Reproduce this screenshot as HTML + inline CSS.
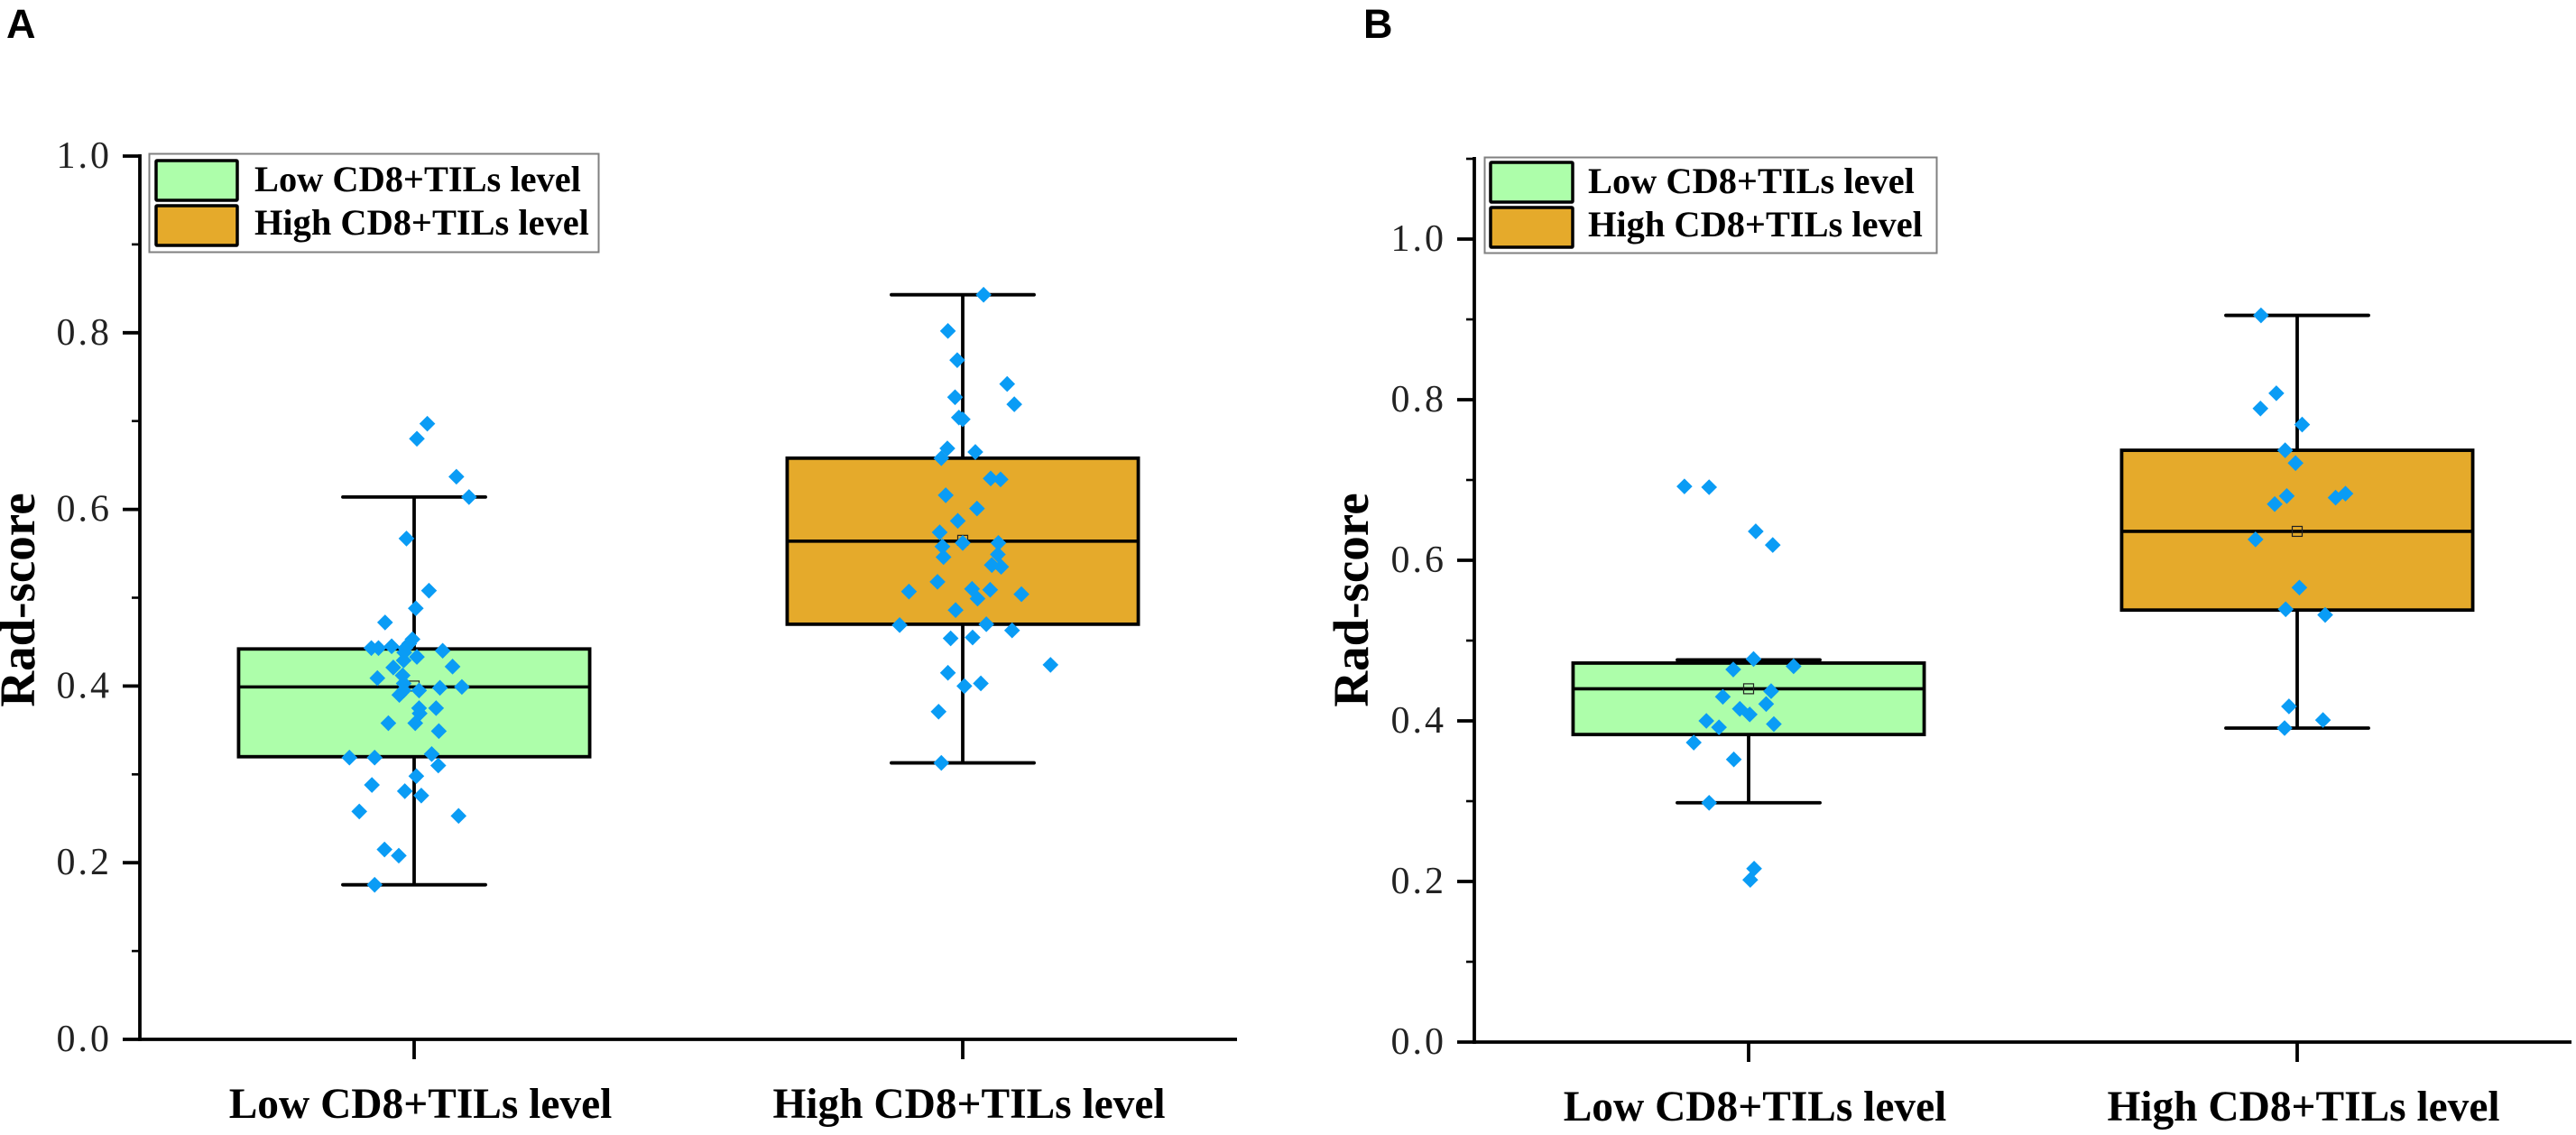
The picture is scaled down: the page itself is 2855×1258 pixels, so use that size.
<!DOCTYPE html>
<html lang="en">
<head>
<meta charset="utf-8">
<title>Rad-score box plots by CD8+TILs level</title>
<style>
html,body{margin:0;padding:0;background:#fff;width:2855px;height:1258px;overflow:hidden}
svg{display:block}
.bold{font-family:"Liberation Serif",serif;font-weight:700;fill:#000}
.tick{font-family:"Liberation Serif",serif;font-size:42px;fill:#222;letter-spacing:3px}
.panel{font-family:"Liberation Sans",sans-serif;font-weight:700;font-size:45px;fill:#000}
</style>
</head>
<body>
<svg id="figure" xmlns="http://www.w3.org/2000/svg" width="2855" height="1258" viewBox="0 0 2855 1258">
  <rect width="2855" height="1258" fill="#fff"/>
  <text class="panel" x="7" y="42">A</text>
  <text class="panel" x="1511" y="42">B</text>
  <g id="plot-a"></g>
  <g id="plot-b"></g>
  <text class="bold" font-size="55" text-anchor="middle" transform="translate(38,665) rotate(-90)">Rad-score</text>
  <text class="bold" font-size="55" text-anchor="middle" transform="translate(1516,665) rotate(-90)">Rad-score</text>

  <g>
    <rect x="165.5" y="170.5" width="498" height="109" fill="#fff" stroke="#808080" stroke-width="2"/>
    <rect x="173" y="178" width="90" height="44" rx="1" fill="#adfeaa" stroke="#000" stroke-width="3.5"/>
    <rect x="173" y="228" width="90" height="44" rx="1" fill="#e5aa2b" stroke="#000" stroke-width="3.5"/>
    <text class="bold" font-size="40.4" x="282" y="212">Low CD8+TILs level</text>
    <text class="bold" font-size="40.4" x="282" y="260">High CD8+TILs level</text>
  </g>
  <g>
    <rect x="1645.5" y="174.5" width="501" height="106" fill="#fff" stroke="#808080" stroke-width="2"/>
    <rect x="1652" y="180" width="91" height="44" rx="1" fill="#adfeaa" stroke="#000" stroke-width="3.5"/>
    <rect x="1652" y="230" width="91" height="44" rx="1" fill="#e5aa2b" stroke="#000" stroke-width="3.5"/>
    <text class="bold" font-size="40.4" x="1760" y="214">Low CD8+TILs level</text>
    <text class="bold" font-size="40.4" x="1760" y="262">High CD8+TILs level</text>
  </g>
</svg>
<script>
// ---------- data ----------
const categories = ['Low CD8+TILs level', 'High CD8+TILs level'];
const yTicksA = ['0.0', '0.2', '0.4', '0.6', '0.8', '1.0'];
const yTicksB = ['0.0', '0.2', '0.4', '0.6', '0.8', '1.0'];

// five-number box stats: lower whisker, Q1, median, mean, Q3, upper whisker
const statsALow  = [0.175, 0.320, 0.399, 0.400, 0.442, 0.614];
const statsAHigh = [0.313, 0.470, 0.564, 0.565, 0.658, 0.843];
const statsBLow  = [0.298, 0.383, 0.440, 0.440, 0.472, 0.476];
const statsBHigh = [0.391, 0.538, 0.636, 0.636, 0.737, 0.905];

// scatter points: value and horizontal jitter (in category widths)
const valuesALow = [.697,.680,.637,.614,.567,.508,.488,.472,.453,.448,.443,.443,.445,.443,.440,.433,.429,.438,.421,.412,.422,.409,.403,.395,.398,.399,.390,.395,.375,.375,.369,.358,.358,.349,.319,.319,.323,.310,.298,.288,.281,.276,.258,.253,.215,.208,.175];
const jitterALow = [.024,.005,.077,.100,-.014,.027,.003,-.053,-.003,-.009,-.078,-.065,-.041,-.016,.052,.005,-.019,-.018,-.038,-.021,.070,-.067,-.019,.009,.047,.087,-.027,-.019,.040,.009,.010,.002,-.047,.045,-.118,-.072,.032,.044,.004,-.077,-.017,.013,-.100,.081,-.054,-.028,-.072];
const valuesAHigh = [.843,.802,.769,.742,.727,.719,.704,.702,.669,.658,.665,.635,.634,.616,.601,.587,.574,.558,.562,.562,.546,.549,.537,.535,.518,.507,.510,.509,.499,.504,.486,.469,.470,.463,.454,.455,.424,.415,.400,.403,.371,.313];
const jitterAHigh = [.038,-.027,-.010,.081,-.014,.094,-.007,0,-.028,-.039,.023,.051,.069,-.031,.026,-.009,-.042,-.037,0,.065,-.035,.064,.053,.070,-.046,-.098,.017,.050,.027,.107,-.013,-.115,.043,.090,-.022,.018,.160,-.027,.003,.033,-.044,-.039];
const valuesBLow = [.692,.691,.636,.619,.477,.468,.464,.437,.430,.421,.415,.408,.400,.392,.396,.373,.352,.298,.216,.202];
const jitterBLow = [-.117,-.072,.013,.044,.009,.082,-.028,.041,-.047,.032,-.016,.002,-.077,-.054,.046,-.100,-.027,-.072,.010,.003];
const valuesBHigh = [.905,.808,.789,.769,.737,.721,.680,.670,.678,.683,.626,.566,.539,.532,.418,.401,.391];
const jitterBHigh = [-.066,-.038,-.067,.009,-.022,-.003,-.019,-.041,.070,.088,-.076,.004,-.021,.051,-.015,.047,-.023];

// ---------- drawing ----------
const SVGNS = 'http://www.w3.org/2000/svg';
const BOX_WIDTH = 0.64, CAP_WIDTH = 0.26;
const COLOR_LOW = '#adfeaa', COLOR_HIGH = '#e5aa2b', COLOR_POINT = '#0a9cf5';

function make(parent, tag, attrs, text) {
  const el = document.createElementNS(SVGNS, tag);
  for (const k in attrs) el.setAttribute(k, attrs[k]);
  if (text !== undefined) el.textContent = text;
  parent.appendChild(el);
  return el;
}

function drawBox(g, xScale, yScale, cat, stats, fill, values, jitter) {
  const [lo, q1, med, mean, q3, hi] = stats;
  const cx = xScale(cat);
  const boxL = xScale(cat - BOX_WIDTH / 2), boxR = xScale(cat + BOX_WIDTH / 2);
  const capL = xScale(cat - CAP_WIDTH / 2), capR = xScale(cat + CAP_WIDTH / 2);

  const stem = make(g, 'line', {x1: cx, x2: cx, y1: yScale(lo), y2: yScale(hi), stroke: '#000', 'stroke-width': 3.8});
  
  

  const capTop = make(g, 'line', {x1: capL, x2: capR, y1: yScale(hi), y2: yScale(hi), stroke: '#000', 'stroke-width': 3.8, 'stroke-linecap': 'round'});
  
  

  const capBottom = make(g, 'line', {x1: capL, x2: capR, y1: yScale(lo), y2: yScale(lo), stroke: '#000', 'stroke-width': 3.8, 'stroke-linecap': 'round'});
  
  

  const box = make(g, 'rect', {x: boxL, y: yScale(q3), width: boxR - boxL, height: yScale(q1) - yScale(q3), fill: fill, stroke: '#000', 'stroke-width': 3.8});
  
  

  const medianLine = make(g, 'line', {x1: boxL, x2: boxR, y1: yScale(med), y2: yScale(med), stroke: '#000', 'stroke-width': 3.6});
  
  

  const meanMark = make(g, 'rect', {x: cx - 5.5, y: yScale(mean) - 5.5, width: 11, height: 11, fill: 'none', stroke: '#222', 'stroke-width': 1.2});
  
  

  values.forEach((v, i) => {
    const px = xScale(cat + jitter[i]), py = yScale(v), r = 8.8;
    const pt = make(g, 'polygon', {points: `${px},${py - r} ${px + r},${py} ${px},${py + r} ${px - r},${py}`, fill: COLOR_POINT});
    
    
  });
}

function drawAxes(g, x0, y0, xScale, yScale, yMax, tickLabels) {
  const xEnd = xScale(1.5);
  const yAxis = make(g, 'line', {x1: x0, x2: x0, y1: yScale(yMax) - 2, y2: y0 + 2, stroke: '#000', 'stroke-width': 3.8});
  
  

  const xAxis = make(g, 'line', {x1: x0 - 2, x2: xEnd, y1: y0, y2: y0, stroke: '#000', 'stroke-width': 3.8});
  
  

  tickLabels.forEach(label => {
    const v = parseFloat(label);
    const t = make(g, 'line', {x1: x0 - 19, x2: x0, y1: yScale(v), y2: yScale(v), stroke: '#000', 'stroke-width': 3.8});
    
    
    const l = make(g, 'text', {x: x0 - 31, y: yScale(v) + 13, 'text-anchor': 'end', class: 'tick'}, label);
    
    
  });
  for (let k = 1; k < yMax * 10 + 0.5; k += 2) {
    const v = k / 10;
    const t = make(g, 'line', {x1: x0 - 9, x2: x0, y1: yScale(v), y2: yScale(v), stroke: '#000', 'stroke-width': 2.6});
    
    
  }
  categories.forEach((c, i) => {
    const t = make(g, 'line', {x1: xScale(i), x2: xScale(i), y1: y0, y2: y0 + 22, stroke: '#000', 'stroke-width': 3.8});
    
    
    const l = make(g, 'text', {x: xScale(i) + 7, y: y0 + 87, 'text-anchor': 'middle', class: 'bold', 'font-size': 47.4}, c);
    
    
  });
}

// axis functions: category index -> x, value -> y
const xA = c => 459 + c * 608;
const yA = v => 1152 - v * 979;
const xB = c => 1938 + c * 608;
const yB = v => 1155 - v * 890;

const gA = document.getElementById('plot-a');
const gB = document.getElementById('plot-b');
drawBox(gA, xA, yA, 0, statsALow, COLOR_LOW, valuesALow, jitterALow);
drawBox(gA, xA, yA, 1, statsAHigh, COLOR_HIGH, valuesAHigh, jitterAHigh);
drawAxes(gA, 155, 1152, xA, yA, 1.0, yTicksA);
drawBox(gB, xB, yB, 0, statsBLow, COLOR_LOW, valuesBLow, jitterBLow);
drawBox(gB, xB, yB, 1, statsBHigh, COLOR_HIGH, valuesBHigh, jitterBHigh);
drawAxes(gB, 1634, 1155, xB, yB, 1.1, yTicksB);
</script>
</body>
</html>
